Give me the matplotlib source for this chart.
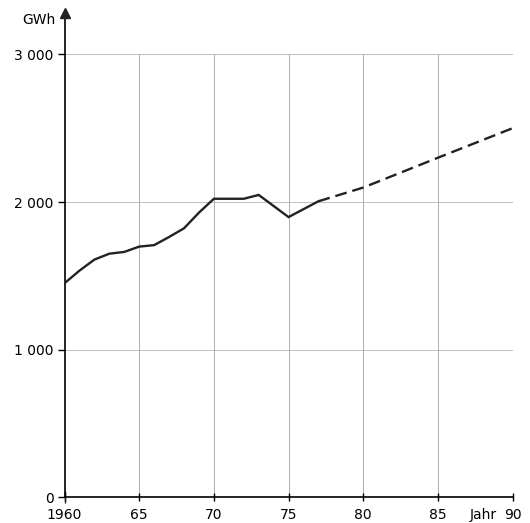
import matplotlib.pyplot as plt

# Stromverbrauch (GWh), Ist-Werte und Prognose
years = [1960, 1961, 1962, 1963, 1964, 1965, 1966, 1967, 1968, 1969,
         1970, 1971, 1972, 1973, 1975, 1977]
gwh = [1450, 1535, 1610, 1650, 1662, 1698, 1708, 1763, 1822, 1928,
       2022, 2022, 2022, 2048, 1898, 2005]

proj_years = [1977, 1980, 1985, 1990]
proj_gwh = [2005, 2098, 2300, 2500]

xticks = [1960, 1965, 1970, 1975, 1980, 1985, 1990]
xtick_labels = ['1960', '65', '70', '75', '80', '85', '90']
yticks = [0, 1000, 2000, 3000]
ytick_labels = ['0', '1 000', '2 000', '3 000']

plt.rcParams['font.family'] = ['DejaVu Sans']

fig = plt.figure(figsize=(5.30, 5.23), dpi=100)
ax = fig.add_axes([0.1217, 0.0491, 0.8455, 0.926])
ax.set_xlim(1960, 1990)
ax.set_ylim(0, 3280)

# grid stops at the 3000 line
for x in xticks[1:]:
    ax.plot([x, x], [0, 3000], color='#9a9a9a', lw=0.55, zorder=1,
            ls=(0, (6, 1.5)) if x == 1990 else '-')
for y in yticks[1:]:
    ax.plot([1960, 1990], [y, y], color='#b0b0b0', lw=0.55, zorder=1)

ax.plot(years, gwh, color='#222222', lw=1.7, zorder=3, solid_joinstyle='miter')
ax.plot(proj_years, proj_gwh, color='#222222', lw=1.7, ls=(0, (5, 2.5)), zorder=3)

for s in ['top', 'right']:
    ax.spines[s].set_visible(False)
ax.spines['left'].set_linewidth(1.2)
ax.spines['bottom'].set_linewidth(1.2)
ax.plot(0, 1, marker='^', color='#222222', markersize=7, transform=ax.transAxes,
        clip_on=False, zorder=4)

ax.set_xticks(xticks)
ax.set_xticklabels(xtick_labels)
ax.set_yticks(yticks)
ax.set_yticklabels(ytick_labels)
ax.tick_params(axis='x', direction='inout', length=6, width=1, pad=5, labelsize=10)
ax.tick_params(axis='y', direction='out', length=5, width=1, pad=3, labelsize=10)
ax.plot(0, 0, marker='|', markersize=8, color='#222222', transform=ax.transAxes, clip_on=False)

ax.text(-0.02, 0.985, 'GWh', transform=ax.transAxes, ha='right', va='center', fontsize=10)
ax.text(0.935, -0.037, 'Jahr', transform=ax.transAxes, ha='center', va='center', fontsize=10)

fig.savefig('out.png', dpi=100)
